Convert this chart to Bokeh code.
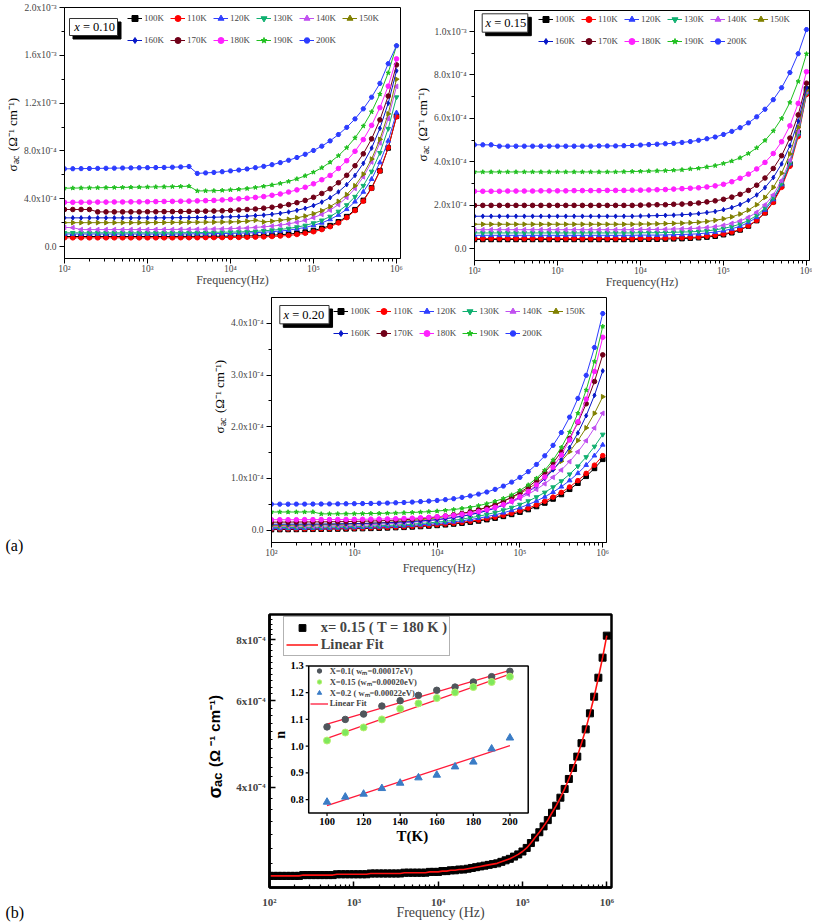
import math
import numpy as np
from bokeh.plotting import figure
from bokeh.models import Range1d, FixedTicker, Label, Legend, LegendItem, LinearScale
from bokeh.layouts import column, row
from bokeh.embed import file_html
from bokeh.resources import INLINE
from bokeh.core.properties import value

S = 1.0
SERIF = "Liberation Serif"
SANS = "Liberation Sans"

# ------------------------------------------------------------------ data
FREQ_EXP = [2.0, 2.1, 2.2, 2.3, 2.4, 2.5, 2.6, 2.7, 2.8, 2.9,
            3.0, 3.1, 3.2, 3.3, 3.4, 3.5, 3.6, 3.7, 3.8, 3.9,
            4.0, 4.1, 4.2, 4.3, 4.4, 4.5, 4.6, 4.7, 4.8, 4.9,
            5.0, 5.1, 5.2, 5.3, 5.4, 5.5, 5.6, 5.7, 5.8, 5.9, 6.0]
FREQ_EXP_FINE = [2.00, 2.05, 2.10, 2.15, 2.20, 2.25, 2.30, 2.35, 2.40, 2.45,
                 2.50, 2.55, 2.60, 2.65, 2.70, 2.75, 2.80, 2.85, 2.90, 2.95,
                 3.00, 3.05, 3.10, 3.15, 3.20, 3.25, 3.30, 3.35, 3.40, 3.45,
                 3.50, 3.55, 3.60, 3.65, 3.70, 3.75, 3.80, 3.85, 3.90, 3.95,
                 4.00, 4.05, 4.10, 4.15, 4.20, 4.25, 4.30, 4.35, 4.40, 4.45,
                 4.50, 4.55, 4.60, 4.65, 4.70, 4.75, 4.80, 4.85, 4.90, 4.95,
                 5.00, 5.05, 5.10, 5.15, 5.20, 5.25, 5.30, 5.35, 5.40, 5.45,
                 5.50, 5.55, 5.60, 5.65, 5.70, 5.75, 5.80, 5.85, 5.90, 5.95, 6.00]

TEMPS = ["100K", "110K", "120K", "130K", "140K", "150K",
         "160K", "170K", "180K", "190K", "200K"]

# x = 0.10, sigma_ac in units of 1e-4 S/cm
X010 = {
    "100K": [0.84, 0.84, 0.84, 0.84, 0.84, 0.84, 0.84, 0.84, 0.84, 0.84,
             0.84, 0.84, 0.84, 0.84, 0.85, 0.85, 0.85, 0.86, 0.86, 0.86,
             0.87, 0.87, 0.89, 0.90, 0.92, 0.95, 0.99, 1.04, 1.12, 1.21,
             1.34, 1.52, 1.75, 2.07, 2.50, 3.08, 3.86, 4.91, 6.34, 8.25, 10.9],
    "110K": [0.73, 0.73, 0.73, 0.73, 0.73, 0.73, 0.73, 0.73, 0.73, 0.73,
             0.73, 0.73, 0.73, 0.73, 0.74, 0.74, 0.74, 0.75, 0.75, 0.75,
             0.76, 0.76, 0.78, 0.79, 0.81, 0.84, 0.88, 0.93, 1.01, 1.11,
             1.24, 1.42, 1.66, 1.98, 2.42, 3.01, 3.80, 4.87, 6.32, 8.27, 10.85],
    "120K": [1.05, 1.05, 1.05, 1.05, 1.05, 1.05, 1.05, 1.05, 1.05, 1.05,
             1.05, 1.05, 1.05, 1.05, 1.06, 1.06, 1.07, 1.07, 1.08, 1.09,
             1.10, 1.12, 1.14, 1.16, 1.20, 1.24, 1.30, 1.37, 1.48, 1.60,
             1.77, 1.98, 2.27, 2.64, 3.12, 3.75, 4.57, 5.64, 7.03, 8.84, 11.2],
    "130K": [1.15, 1.15, 1.15, 1.15, 1.15, 1.15, 1.15, 1.15, 1.15, 1.15,
             1.15, 1.15, 1.15, 1.15, 1.16, 1.16, 1.17, 1.18, 1.19, 1.20,
             1.21, 1.22, 1.25, 1.27, 1.32, 1.37, 1.43, 1.51, 1.63, 1.76,
             1.96, 2.19, 2.51, 2.93, 3.47, 4.17, 5.09, 6.28, 7.84, 9.86, 12.5],
    "140K": [1.60, 1.58, 1.42, 1.42, 1.42, 1.42, 1.42, 1.42, 1.42, 1.42,
             1.42, 1.43, 1.43, 1.43, 1.44, 1.44, 1.45, 1.46, 1.47, 1.48,
             1.50, 1.53, 1.55, 1.60, 1.65, 1.71, 1.79, 1.90, 2.03, 2.19,
             2.42, 2.69, 3.05, 3.51, 4.11, 4.86, 5.83, 7.07, 8.67, 10.70, 13.4],
    "150K": [2.00, 2.00, 2.00, 2.00, 2.00, 2.00, 2.00, 2.00, 2.00, 2.00,
             2.00, 2.01, 2.01, 2.02, 2.02, 2.03, 2.03, 2.04, 2.04, 2.05,
             2.06, 2.08, 2.12, 2.20, 2.06, 2.12, 2.20, 2.28, 2.40, 2.55,
             2.75, 3.00, 3.34, 3.78, 4.35, 5.09, 6.06, 7.32, 8.97, 11.1, 14.0],
    "160K": [2.40, 2.40, 2.40, 2.40, 2.40, 2.40, 2.40, 2.40, 2.40, 2.40,
             2.40, 2.40, 2.41, 2.41, 2.42, 2.42, 2.43, 2.44, 2.45, 2.47,
             2.49, 2.51, 2.54, 2.59, 2.63, 2.70, 2.78, 2.89, 3.03, 3.20,
             3.43, 3.72, 4.09, 4.57, 5.18, 5.95, 6.96, 8.24, 9.89, 11.99, 14.7],
    "170K": [3.10, 3.10, 3.10, 3.10, 2.90, 2.90, 2.90, 2.90, 2.90, 2.90,
             2.91, 2.91, 2.92, 2.92, 2.93, 2.94, 2.95, 2.96, 2.97, 2.99,
             3.02, 3.06, 3.10, 3.14, 3.21, 3.29, 3.39, 3.51, 3.67, 3.86,
             4.12, 4.44, 4.83, 5.34, 5.96, 6.76, 7.76, 9.01, 10.60, 12.59, 15.2],
    "180K": [3.70, 3.70, 3.71, 3.71, 3.72, 3.72, 3.73, 3.73, 3.74, 3.74,
             3.75, 3.76, 3.77, 3.78, 3.79, 3.80, 3.82, 3.84, 3.86, 3.90,
             3.94, 3.99, 4.04, 4.11, 4.18, 4.29, 4.40, 4.56, 4.74, 4.96,
             5.25, 5.59, 5.95, 6.53, 7.18, 7.97, 8.95, 10.14, 11.62, 13.42, 15.7],
    "190K": [4.88, 4.89, 4.90, 4.91, 4.92, 4.93, 4.94, 4.95, 4.96, 4.97,
             4.98, 4.99, 5.00, 5.01, 5.03, 5.05, 4.65, 4.66, 4.67, 4.70,
             4.74, 4.79, 4.85, 4.94, 5.04, 5.15, 5.28, 5.45, 5.66, 5.92,
             6.22, 6.59, 7.05, 7.60, 8.27, 9.09, 10.08, 11.27, 12.75, 14.53, 16.8],
    "200K": [6.50, 6.51, 6.52, 6.53, 6.54, 6.55, 6.56, 6.57, 6.58, 6.59,
             6.60, 6.61, 6.62, 6.64, 6.66, 6.70, 6.12, 6.16, 6.20, 6.26,
             6.33, 6.40, 6.49, 6.60, 6.71, 6.85, 7.02, 7.22, 7.45, 7.72,
             8.04, 8.40, 8.84, 9.37, 9.97, 10.68, 11.52, 12.50, 13.65, 15.3, 16.8],
}

# x = 0.15, T = 180 K (panel b, fine frequency grid), units of 1e-4 S/cm
SIGMA_X015_180K = [2.64, 2.64, 2.64, 2.64, 2.64, 2.64, 2.64, 2.64, 2.65, 2.65,
                   2.65, 2.65, 2.65, 2.65, 2.65, 2.65, 2.66, 2.66, 2.66, 2.66,
                   2.66, 2.66, 2.66, 2.66, 2.67, 2.67, 2.67, 2.67, 2.67, 2.67,
                   2.67, 2.67, 2.68, 2.68, 2.68, 2.68, 2.68, 2.68, 2.69, 2.69,
                   2.69, 2.70, 2.70, 2.71, 2.71, 2.72, 2.72, 2.73, 2.74, 2.75,
                   2.76, 2.77, 2.78, 2.79, 2.80, 2.82, 2.84, 2.86, 2.89, 2.92,
                   2.96, 3.01, 3.08, 3.16, 3.24, 3.33, 3.43, 3.55, 3.67, 3.81,
                   3.97, 4.16, 4.38, 4.62, 4.92, 5.25, 5.66, 6.12, 6.69, 7.35, 8.15]

# x = 0.15, units of 1e-4 S/cm
X015 = {
    "100K": [0.42, 0.42, 0.42, 0.42, 0.42, 0.42, 0.42, 0.42, 0.42, 0.42,
             0.42, 0.42, 0.42, 0.42, 0.42, 0.42, 0.42, 0.42, 0.42, 0.42,
             0.43, 0.43, 0.43, 0.44, 0.45, 0.46, 0.48, 0.50, 0.53, 0.57,
             0.64, 0.73, 0.86, 1.04, 1.29, 1.65, 2.16, 2.88, 3.89, 5.33, 7.35],
    "110K": [0.46, 0.46, 0.46, 0.46, 0.46, 0.46, 0.46, 0.46, 0.46, 0.46,
             0.46, 0.46, 0.46, 0.46, 0.46, 0.46, 0.46, 0.46, 0.46, 0.46,
             0.47, 0.47, 0.47, 0.48, 0.49, 0.50, 0.51, 0.53, 0.57, 0.61,
             0.67, 0.76, 0.88, 1.05, 1.30, 1.64, 2.13, 2.82, 3.79, 5.16, 7.10],
    "120K": [0.61, 0.61, 0.61, 0.61, 0.61, 0.61, 0.61, 0.61, 0.61, 0.61,
             0.61, 0.61, 0.61, 0.61, 0.61, 0.61, 0.61, 0.61, 0.61, 0.61,
             0.62, 0.62, 0.62, 0.63, 0.64, 0.65, 0.66, 0.68, 0.72, 0.76,
             0.82, 0.91, 1.03, 1.20, 1.44, 1.78, 2.26, 2.95, 3.91, 5.28, 7.20],
    "130K": [0.72, 0.72, 0.72, 0.72, 0.72, 0.72, 0.72, 0.72, 0.72, 0.72,
             0.72, 0.72, 0.72, 0.72, 0.72, 0.72, 0.72, 0.72, 0.72, 0.72,
             0.73, 0.73, 0.73, 0.74, 0.75, 0.76, 0.77, 0.79, 0.82, 0.86,
             0.93, 1.01, 1.13, 1.29, 1.53, 1.87, 2.33, 3.00, 3.94, 5.27, 7.15],
    "140K": [0.87, 0.87, 0.87, 0.87, 0.87, 0.87, 0.87, 0.87, 0.87, 0.87,
             0.87, 0.87, 0.87, 0.87, 0.87, 0.87, 0.87, 0.87, 0.87, 0.87,
             0.88, 0.88, 0.88, 0.89, 0.90, 0.91, 0.92, 0.94, 0.97, 1.01,
             1.07, 1.16, 1.27, 1.44, 1.67, 2.01, 2.47, 3.13, 4.07, 5.39, 7.25],
    "150K": [1.12, 1.12, 1.12, 1.12, 1.12, 1.12, 1.12, 1.12, 1.12, 1.12,
             1.12, 1.12, 1.12, 1.12, 1.12, 1.12, 1.12, 1.12, 1.12, 1.12,
             1.13, 1.13, 1.14, 1.15, 1.16, 1.17, 1.19, 1.21, 1.25, 1.30,
             1.37, 1.46, 1.59, 1.77, 2.02, 2.36, 2.82, 3.47, 4.36, 5.59, 7.30],
    "160K": [1.49, 1.49, 1.49, 1.49, 1.49, 1.49, 1.49, 1.49, 1.49, 1.49,
             1.49, 1.49, 1.49, 1.49, 1.49, 1.49, 1.49, 1.49, 1.49, 1.49,
             1.50, 1.51, 1.52, 1.53, 1.54, 1.56, 1.58, 1.61, 1.66, 1.71,
             1.79, 1.89, 2.03, 2.22, 2.47, 2.81, 3.27, 3.90, 4.74, 5.87, 7.40],
    "170K": [1.99, 1.99, 1.99, 1.99, 1.99, 1.99, 1.99, 1.99, 1.99, 1.99,
             1.99, 1.99, 1.99, 1.99, 1.99, 1.99, 1.99, 1.99, 1.99, 1.99,
             2.00, 2.01, 2.02, 2.02, 2.04, 2.05, 2.07, 2.10, 2.15, 2.20,
             2.27, 2.37, 2.50, 2.68, 2.92, 3.25, 3.69, 4.28, 5.09, 6.16, 7.62],
    "180K": SIGMA_X015_180K[::2],
    "190K": [3.53, 3.53, 3.53, 3.53, 3.53, 3.53, 3.53, 3.53, 3.53, 3.53,
             3.53, 3.53, 3.53, 3.53, 3.53, 3.53, 3.53, 3.53, 3.54, 3.55,
             3.56, 3.57, 3.58, 3.59, 3.61, 3.63, 3.67, 3.70, 3.76, 3.82,
             3.92, 4.03, 4.18, 4.38, 4.64, 4.98, 5.42, 5.99, 6.73, 7.70, 8.97],
    "200K": [4.78, 4.78, 4.78, 4.72, 4.72, 4.72, 4.72, 4.72, 4.72, 4.72,
             4.72, 4.72, 4.72, 4.72, 4.72, 4.73, 4.73, 4.73, 4.74, 4.75,
             4.77, 4.79, 4.81, 4.83, 4.85, 4.89, 4.93, 4.99, 5.06, 5.14,
             5.26, 5.40, 5.57, 5.79, 6.07, 6.42, 6.86, 7.41, 8.11, 8.98, 10.09],
}

# x = 0.20, units of 1e-5 S/cm
X020 = {
    "100K": [0.10, 0.11, 0.12, 0.13, 0.15, 0.16, 0.18, 0.20, 0.21, 0.24,
             0.27, 0.30, 0.34, 0.38, 0.43, 0.49, 0.54, 0.62, 0.70, 0.80,
             0.91, 1.03, 1.18, 1.35, 1.55, 1.77, 2.03, 2.32, 2.66, 3.04,
             3.48, 3.98, 4.57, 5.24, 6.02, 6.89, 7.90, 9.07, 10.41, 11.94, 13.7],
    "110K": [0.21, 0.22, 0.23, 0.24, 0.25, 0.27, 0.28, 0.31, 0.32, 0.35,
             0.38, 0.41, 0.45, 0.49, 0.55, 0.61, 0.66, 0.75, 0.83, 0.93,
             1.05, 1.18, 1.33, 1.50, 1.72, 1.95, 2.22, 2.52, 2.87, 3.27,
             3.73, 4.25, 4.87, 5.57, 6.38, 7.29, 8.34, 9.57, 10.97, 12.56, 14.4],
    "120K": [0.32, 0.33, 0.34, 0.35, 0.37, 0.38, 0.40, 0.43, 0.45, 0.48,
             0.51, 0.54, 0.59, 0.64, 0.71, 0.77, 0.84, 0.93, 1.03, 1.14,
             1.27, 1.42, 1.60, 1.79, 2.04, 2.30, 2.61, 2.95, 3.35, 3.81,
             4.33, 4.93, 5.63, 6.43, 7.35, 8.39, 9.59, 10.99, 12.58, 14.40, 16.5],
    "130K": [0.47, 0.49, 0.50, 0.51, 0.53, 0.55, 0.57, 0.60, 0.62, 0.65,
             0.69, 0.73, 0.78, 0.83, 0.91, 0.98, 1.05, 1.16, 1.27, 1.40,
             1.54, 1.70, 1.90, 2.12, 2.39, 2.68, 3.02, 3.40, 3.86, 4.36,
             4.94, 5.61, 6.39, 7.28, 8.31, 9.47, 10.81, 12.36, 14.14, 16.17, 18.5],
    "140K": [0.69, 0.70, 0.72, 0.74, 0.76, 0.78, 0.81, 0.84, 0.86, 0.91,
             0.95, 1.00, 1.06, 1.13, 1.22, 1.30, 1.39, 1.52, 1.66, 1.81,
             1.99, 2.18, 2.43, 2.69, 3.02, 3.37, 3.79, 4.25, 4.80, 5.42,
             6.12, 6.94, 7.88, 8.96, 10.21, 11.62, 13.25, 15.14, 17.30, 19.76, 22.6],
    "150K": [0.90, 0.92, 0.94, 0.96, 0.98, 1.01, 1.04, 1.08, 1.10, 1.15,
             1.20, 1.25, 1.33, 1.40, 1.50, 1.60, 1.70, 1.85, 2.00, 2.18,
             2.38, 2.60, 2.88, 3.18, 3.55, 3.95, 4.43, 4.95, 5.58, 6.28,
             7.08, 8.00, 9.08, 10.30, 11.73, 13.33, 15.18, 17.33, 19.78, 22.58, 25.8],
    "160K": [1.13, 1.14, 1.14, 1.15, 1.16, 1.17, 1.18, 1.20, 1.22, 1.24,
             1.27, 1.30, 1.33, 1.38, 1.43, 1.50, 1.57, 1.66, 1.77, 1.90,
             2.05, 2.23, 2.44, 2.67, 2.97, 3.33, 3.74, 4.25, 4.84, 5.56,
             6.39, 7.37, 8.55, 9.98, 11.64, 13.63, 15.98, 18.80, 22.13, 26.08, 30.8],
    "170K": [1.53, 1.54, 1.55, 1.56, 1.57, 1.58, 1.59, 1.61, 1.63, 1.65,
             1.68, 1.72, 1.76, 1.80, 1.86, 1.93, 2.01, 2.11, 2.23, 2.37,
             2.54, 2.73, 2.96, 3.22, 3.54, 3.93, 4.38, 4.93, 5.58, 6.36,
             7.27, 8.34, 9.63, 11.19, 13.00, 15.17, 17.73, 20.81, 24.44, 28.75, 33.9],
    "180K": [2.01, 2.01, 2.01, 2.01, 2.02, 2.02, 2.03, 2.04, 2.05, 2.06,
             2.07, 2.09, 2.11, 2.13, 2.16, 2.20, 2.24, 2.30, 2.37, 2.46,
             2.56, 2.71, 2.85, 3.06, 3.27, 3.59, 3.94, 4.40, 4.93, 5.60,
             6.45, 7.47, 8.74, 10.26, 12.17, 14.53, 17.43, 20.96, 25.33, 30.70, 37.3],
    "190K": [3.50, 3.50, 3.50, 3.50, 3.50, 3.52, 3.13, 3.14, 3.15, 3.16,
             3.17, 3.19, 3.21, 3.23, 3.27, 3.30, 3.35, 3.41, 3.48, 3.57,
             3.68, 3.83, 3.97, 4.19, 4.41, 4.73, 5.10, 5.57, 6.11, 6.80,
             7.67, 8.73, 10.03, 11.59, 13.55, 15.99, 18.96, 22.59, 27.09, 32.61, 39.4],
    "200K": [5.02, 5.02, 5.02, 5.03, 5.03, 5.04, 5.05, 5.06, 5.07, 5.09,
             5.11, 5.13, 5.16, 5.19, 5.23, 5.28, 5.34, 5.42, 5.51, 5.61,
             5.74, 5.89, 6.07, 6.33, 6.62, 6.96, 7.36, 7.88, 8.51, 9.28,
             10.20, 11.31, 12.71, 14.37, 16.40, 18.87, 21.86, 25.48, 29.94, 35.33, 41.9],
}

# inset: exponent n versus temperature
T_K = [100, 110, 120, 130, 140, 150, 160, 170, 180, 190, 200]
N_X010 = [1.072, 1.100, 1.120, 1.150, 1.170, 1.190, 1.209, 1.221, 1.240, 1.260, 1.280]
N_X015 = [1.021, 1.051, 1.070, 1.100, 1.140, 1.160, 1.180, 1.201, 1.221, 1.240, 1.260]
N_X020 = [0.791, 0.810, 0.821, 0.842, 0.862, 0.882, 0.892, 0.923, 0.941, 0.990, 1.031]

# ticks / labels
X_MAJOR = [100, 1000, 10000, 100000, 1000000]
X_LABELS = {100: "10²", 1000: "10³", 10000: "10⁴", 100000: "10⁵", 1000000: "10⁶"}
Y1_TICKS, Y1_MINOR = [0, 4, 8, 12, 16, 20], [2, 6, 10, 14, 18]
Y1_LABELS = {0: "0.0", 4: "4.0x10⁻⁴", 8: "8.0x10⁻⁴", 12: "1.2x10⁻³", 16: "1.6x10⁻³", 20: "2.0x10⁻³"}
Y2_TICKS, Y2_MINOR = [0, 2, 4, 6, 8, 10], [1, 3, 5, 7, 9]
Y2_LABELS = {0: "0.0", 2: "2.0x10⁻⁴", 4: "4.0x10⁻⁴", 6: "6.0x10⁻⁴", 8: "8.0x10⁻⁴", 10: "1.0x10⁻³"}
Y3_TICKS, Y3_MINOR = [0, 10, 20, 30, 40], [5, 15, 25, 35]
Y3_LABELS = {0: "0.0", 10: "1.0x10⁻⁴", 20: "2.0x10⁻⁴", 30: "3.0x10⁻⁴", 40: "4.0x10⁻⁴"}
Y4_TICKS = [4, 6, 8]
Y4_LABELS = {4: "4x10⁻⁴", 6: "6x10⁻⁴", 8: "8x10⁻⁴"}
INSET_XT = [100, 120, 140, 160, 180, 200]
INSET_YT = [0.8, 0.9, 1.0, 1.1, 1.2, 1.3]

COLORS = ["#000000", "#ff0000", "#3040ff", "#10b070", "#c050f0", "#808000",
          "#0818c8", "#700018", "#ff20ff", "#20c020", "#2c3cff"]
MARKERS = [("square", 0.0), ("circle", 0.0), ("triangle", 0.0), ("inverted_triangle", 0.0),
           ("triangle", math.pi / 2), ("triangle", -math.pi / 2), ("diamond", 0.0),
           ("circle", 0.0), ("circle", 0.0), ("star", 0.0), ("hex", 0.0)]

for d in (X010, X015, X020):
    for t in TEMPS:
        assert len(d[t]) == len(FREQ_EXP), t
assert len(SIGMA_X015_180K) == len(FREQ_EXP_FINE)


def no_align(f):
    try:
        f.frame_align = False
    except Exception:
        pass


def both_keys(d):
    out = {}
    for k, v in d.items():
        out[k] = v
        out[str(k)] = v
    return out


def minor_log():
    return [m * 10 ** k for k in range(2, 6) for m in range(2, 10)]


def conv_factory(F, xr, yr, ylog=False):
    L, T, R, B = F
    lx0, lx1 = math.log10(xr[0]), math.log10(xr[1])

    def conv(X, Y):
        fx = (X - L) / (R - L)
        fy = (Y - T) / (B - T)
        x = 10 ** (lx0 + fx * (lx1 - lx0))
        if ylog:
            a, b = math.log10(yr[0]), math.log10(yr[1])
            y = 10 ** (b - fy * (b - a))
        else:
            y = yr[1] - fy * (yr[1] - yr[0])
        return x, y
    return conv


def add_label(p, conv, X, Y, text, size, font=SERIF, style="normal",
              align="left", baseline="middle", angle=0.0):
    x, y = conv(X, Y)
    p.add_layout(Label(x=x, y=y, text=text, text_font=font,
                       text_font_size=f"{size * S:.1f}px", text_font_style=style,
                       text_align=align, text_baseline=baseline, angle=angle,
                       text_color="black"))


def add_ylabel(p, conv, X, Ybot, parts):
    y = Ybot
    for text, size, style, font, dx, adv in parts:
        add_label(p, conv, X + dx, y, text, size, font=font, style=style,
                  align="left", baseline="middle", angle=math.pi / 2)
        y -= adv


def label_fig(x0, y0, w, h):
    f = figure(width=w, height=h, title=None, x_range=Range1d(0, w), y_range=Range1d(0, h),
               x_axis_location=None, y_axis_location=None, output_backend="svg",
               toolbar_location=None, min_border_left=0, min_border_right=0,
               min_border_top=0, min_border_bottom=0)
    no_align(f)
    f.grid.visible = False
    f.outline_line_color = None
    f.background_fill_color = "white"
    f.border_fill_color = "white"

    def conv(X, Y):
        return X - x0, h - (Y - y0)
    return f, conv


SER_YLABEL = [("σ", 13, "normal", SERIF, 0, 7.4),
              ("ac", 9.5, "normal", SERIF, 3.5, 13.0),
              ("(Ω⁻¹ cm⁻¹)", 13, "normal", SERIF, 0, 0)]

LEG_ROW_H, LEG_SP = 16, 6


def series_panel(data, F, geom, xr, yr, yt, ymin, ylabels, tag, leg, box, xl_standoff):
    w, h, bl, br, bt, bb = geom
    p = figure(width=w, height=h, title=None, x_axis_type="log",
               x_range=Range1d(*xr), y_range=Range1d(*yr),
               output_backend="svg", toolbar_location=None,
               min_border_left=bl, min_border_right=br,
               min_border_top=bt, min_border_bottom=bb)
    no_align(p)
    p.grid.visible = False
    p.outline_line_color = "black"
    p.outline_line_width = 1
    p.background_fill_color = "white"
    p.border_fill_color = "white"
    for ax in (p.xaxis[0], p.yaxis[0]):
        ax.axis_line_width = 1
        ax.major_tick_in = 0
        ax.major_tick_out = 5
        ax.minor_tick_in = 0
        ax.minor_tick_out = 3
        ax.major_label_text_font = SERIF
        ax.major_label_text_font_size = "9.5px"
        ax.major_label_standoff = 0
    p.xaxis.ticker = FixedTicker(ticks=X_MAJOR, minor_ticks=minor_log())
    p.xaxis.major_label_overrides = both_keys(X_LABELS)
    p.xaxis.axis_label = "Frequency(Hz)"
    p.xaxis.axis_label_text_font = SERIF
    p.xaxis.axis_label_text_font_style = "normal"
    p.xaxis.axis_label_text_font_size = "12px"
    p.xaxis.axis_label_standoff = xl_standoff
    p.yaxis.ticker = FixedTicker(ticks=yt, minor_ticks=ymin)
    p.yaxis.major_label_overrides = both_keys(ylabels)
    p.yaxis.major_label_standoff = 3

    conv = conv_factory(F, xr, yr)
    xs = [10 ** e for e in FREQ_EXP]
    items = []
    for t, c, (m, a) in zip(TEMPS, COLORS, MARKERS):
        ln = p.line(xs, data[t], line_color=c, line_width=1)
        mk = p.scatter(xs, data[t], marker=m, angle=a, size=4.6,
                       fill_color=c, line_color=c)
        items.append(LegendItem(label=t, renderers=[ln, mk]))

    fh = h - bt - bb
    lx = (leg[0] - F[0]) * S
    top = max(0.5, (leg[1] - F[1]) * S - LEG_ROW_H / 2)
    lh = 2 * LEG_ROW_H + LEG_SP
    legend = Legend(items=items, location=(lx, fh - top - lh), orientation="horizontal",
                    ncols=6, glyph_width=15, glyph_height=LEG_ROW_H, label_height=LEG_ROW_H,
                    label_standoff=2, spacing=LEG_SP, padding=0, margin=0,
                    border_line_color=None, background_fill_alpha=0,
                    label_text_font=SERIF, label_text_font_size="9px")
    p.add_layout(legend)

    # "x = ..." tag box with shadow
    bx0, by0, bx1, by1, tx = box
    xa, ya = conv(bx0 + 3.5, by0 + 3.5)
    xb, yb = conv(bx1 + 3.5, by1 + 3.5)
    p.quad(left=[xa], right=[xb], top=[ya], bottom=[yb], fill_color="black", line_color="black")
    xa, ya = conv(bx0, by0)
    xb, yb = conv(bx1, by1)
    p.quad(left=[xa], right=[xb], top=[ya], bottom=[yb], fill_color="white",
           line_color="#333333", line_width=1)
    cy = (by0 + by1) / 2
    add_label(p, conv, tx, cy, "x", 12.5, style="italic")
    add_label(p, conv, tx + 8.7, cy, "= " + tag, 12.5)
    return p


# ------------------------------------------------------------------ panels (a)
F1 = (64, 7, 400, 258)
F2 = (474, 10, 809, 260)
F3 = (270.7, 297, 606, 541.7)
F4 = (269.3, 614, 610.7, 888.3)

ROW_A = 296
lab1, lc1 = label_fig(0, 0, 20, ROW_A)
p1 = series_panel(X010, F1, (390, ROW_A, 44, 10, 7, ROW_A - 258), (100, 1.117e6), (-1.0, 20.0),
                  Y1_TICKS, Y1_MINOR, Y1_LABELS, "0.10", (127, 18.3),
                  (69, 18, 117, 35, 73.7), -4)
add_ylabel(lab1, lc1, 12, 171, SER_YLABEL)

lab2, lc2 = label_fig(410, 0, 20, ROW_A)
p2 = series_panel(X015, F2, (382, ROW_A, 44, 3, 10, ROW_A - 260), (100, 1.087e6), (-0.55, 10.97),
                  Y2_TICKS, Y2_MINOR, Y2_LABELS, "0.15", (538, 16.3),
                  (481.7, 13.3, 527.3, 31.7, 485), -4)
add_ylabel(lab2, lc2, 422, 161, SER_YLABEL)

ROW_B = 595 - ROW_A
lab3, lc3 = label_fig(0, ROW_A, 228, ROW_B)
p3 = series_panel(X020, F3, (584, ROW_B, 43, 206, 297 - ROW_A, 53), (100, 1.11e6), (-2.4, 45.0),
                  Y3_TICKS, Y3_MINOR, Y3_LABELS, "0.20", (333, 310.7),
                  (279, 305, 328.3, 323.3, 282.7), 0)
add_ylabel(lab3, lc3, 219, 433, SER_YLABEL)
add_label(lab3, lc3, 5, 545, "(a)", 16)

# ------------------------------------------------------------------ panel (b)
lab4, lc4 = label_fig(0, 595, 230, 327)
XR4, YR4 = (100, 1.137e6), (2.5, 9.0)
P4W, P4H, P4BT, P4BB = 582, 327, 19, 34
p4 = figure(width=P4W, height=P4H, title=None, x_axis_type="log", y_axis_type="log",
            x_range=Range1d(*XR4), y_range=Range1d(*YR4),
            output_backend="svg", toolbar_location=None,
            min_border_left=39, min_border_right=201, min_border_top=P4BT, min_border_bottom=P4BB)
no_align(p4)
p4.grid.visible = False
p4.outline_line_color = "black"
p4.outline_line_width = 2.5
p4.background_fill_color = "white"
p4.border_fill_color = "white"
for ax in (p4.xaxis[0], p4.yaxis[0]):
    ax.axis_line_width = 2.5
    ax.major_tick_in = 6
    ax.major_tick_out = 0
    ax.minor_tick_in = 3
    ax.minor_tick_out = 0
    ax.major_tick_line_width = 1.5
    ax.minor_tick_line_width = 1.2
    ax.major_label_text_font = SERIF
    ax.major_label_text_font_style = "bold"
    ax.major_label_text_font_size = "11px"
p4.xaxis.major_label_standoff = 8
p4.yaxis.major_label_standoff = 4
p4.xaxis.ticker = FixedTicker(ticks=X_MAJOR, minor_ticks=minor_log())
p4.xaxis.major_label_overrides = both_keys(X_LABELS)
p4.xaxis.axis_label = "Frequency (Hz)"
p4.xaxis.axis_label_text_font = SERIF
p4.xaxis.axis_label_text_font_style = "normal"
p4.xaxis.axis_label_text_font_size = "14px"
p4.xaxis.axis_label_standoff = -6
p4.yaxis.ticker = FixedTicker(ticks=Y4_TICKS,
                              minor_ticks=[round(2.6 + 0.2 * i, 1) for i in range(33)
                                           if round(2.6 + 0.2 * i, 1) not in (4.0, 6.0, 8.0)])
p4.yaxis.major_label_overrides = both_keys(Y4_LABELS)
c4 = conv_factory(F4, XR4, YR4, ylog=True)

xs4 = [10 ** e for e in FREQ_EXP_FINE]
sq = p4.scatter(xs4, SIGMA_X015_180K, marker="square", size=7, fill_color="black", line_color="black")
fit_main = p4.line(xs4, SIGMA_X015_180K, line_color="#ff1010", line_width=1.6)

# inset drawn on linear extra ranges
INSET_PX = (326.7, 509.3, 665.7, 800.0)   # pixel positions of T=100, T=200, n=1.3, n=0.8
tpp = (INSET_PX[1] - INSET_PX[0]) / 100.0
npp = (INSET_PX[3] - INSET_PX[2]) / 0.5
lin_x = (100 - (INSET_PX[0] - F4[0]) / tpp, 200 + (F4[2] - INSET_PX[1]) / tpp)
lin_y = (0.8 - (F4[3] - INSET_PX[3]) / npp, 1.3 + (INSET_PX[2] - F4[1]) / npp)
p4.extra_x_ranges = {"lin": Range1d(*lin_x)}
p4.extra_y_ranges = {"lin": Range1d(*lin_y)}
p4.extra_x_scales = {"lin": LinearScale()}
p4.extra_y_scales = {"lin": LinearScale()}
LIN = dict(x_range_name="lin", y_range_name="lin")

p4.quad(left=[90], right=[210], bottom=[0.75], top=[1.3], fill_color="white",
        line_color="black", line_width=1.5, **LIN)
dT, dn = 3.0 / tpp, 3.0 / npp
p4.segment(x0=[90] * 6, y0=INSET_YT, x1=[90 - dT] * 6, y1=INSET_YT, line_color="black", line_width=1.2, **LIN)
p4.segment(x0=INSET_XT, y0=[0.75] * 6, x1=INSET_XT, y1=[0.75 - dn] * 6, line_color="black", line_width=1.2, **LIN)
p4.text(x=[90 - dT] * 6, y=INSET_YT, text=[f"{v:.1f}" for v in INSET_YT], text_align="right",
        text_baseline="middle", x_offset=-2, text_font=value(SERIF), text_font_style="bold",
        text_font_size="10.5px", text_color="black", **LIN)
p4.text(x=INSET_XT, y=[0.75 - dn] * 6, text=[str(v) for v in INSET_XT], text_align="center",
        text_baseline="top", y_offset=2, text_font=value(SERIF), text_font_style="bold",
        text_font_size="10.5px", text_color="black", **LIN)

fits = []
for n_vals in (N_X010, N_X015, N_X020):
    k, b = np.polyfit(T_K, n_vals, 1)
    fits.append(p4.line([100, 200], [k * 100 + b, k * 200 + b], line_color="#ff1a3a",
                        line_width=1.3, **LIN))
r10 = p4.scatter(T_K, N_X010, marker="circle", size=6.5, fill_color="#50565c", line_color="#50565c", **LIN)
r15 = p4.scatter(T_K, N_X015, marker="circle", size=7, fill_color="#7fe85c", line_color="#b8f070", **LIN)
r20 = p4.scatter(T_K, N_X020, marker="triangle", size=7.5, fill_color="#3a7cc6", line_color="#3a7cc6", **LIN)

fh4 = P4H - P4BT - P4BB
leg_main = Legend(items=[LegendItem(label="x= 0.15 ( T = 180 K )", renderers=[sq]),
                         LegendItem(label="Linear Fit", renderers=[fit_main])],
                  location=((283 - F4[0]) * S, fh4 - (619 - F4[1]) * S - 38),
                  glyph_width=32, glyph_height=17, label_height=17, label_standoff=3,
                  spacing=0, padding=2, margin=0, border_line_color="#666666",
                  border_line_width=1, background_fill_color="white", background_fill_alpha=1,
                  label_text_font=SERIF, label_text_font_style="bold", label_text_font_size="14.5px")
p4.add_layout(leg_main)
leg_in = Legend(items=[LegendItem(label="X=0.1( wₘ=0.00017eV)", renderers=[r10]),
                       LegendItem(label="X=0.15 (wₘ=0.00020eV)", renderers=[r15]),
                       LegendItem(label="X=0.2 ( wₘ=0.00022eV)", renderers=[r20]),
                       LegendItem(label="Linear Fit", renderers=[fits[2]])],
                location=((310 - F4[0]) * S, fh4 - (665.7 - F4[1]) * S - 44),
                glyph_width=18, glyph_height=11, label_height=11, label_standoff=2,
                spacing=0, padding=0, margin=0, border_line_color=None,
                background_fill_alpha=0, label_text_font=SERIF,
                label_text_font_style="bold", label_text_font_size="8.5px")
p4.add_layout(leg_in)

add_label(p4, c4, 412, 837, "T(K)", 15, style="bold", align="center")
add_label(p4, c4, 280, 735, "n", 14, style="bold", align="center", angle=math.pi / 2)
add_ylabel(lab4, lc4, 214, 798,
           [("σ", 18, "bold", SANS, 0, 11.5),
            ("ac", 13, "bold", SANS, 3.0, 20.0),
            ("(Ω ⁻¹ cm⁻¹)", 15, "bold", SANS, 0, 0)])
add_label(lab4, lc4, 5, 912, "(b)", 16)

layout = column(row(lab1, p1, lab2, p2), row(lab3, p3), row(lab4, p4))
open("out.html", "w").write(file_html(layout, INLINE))
